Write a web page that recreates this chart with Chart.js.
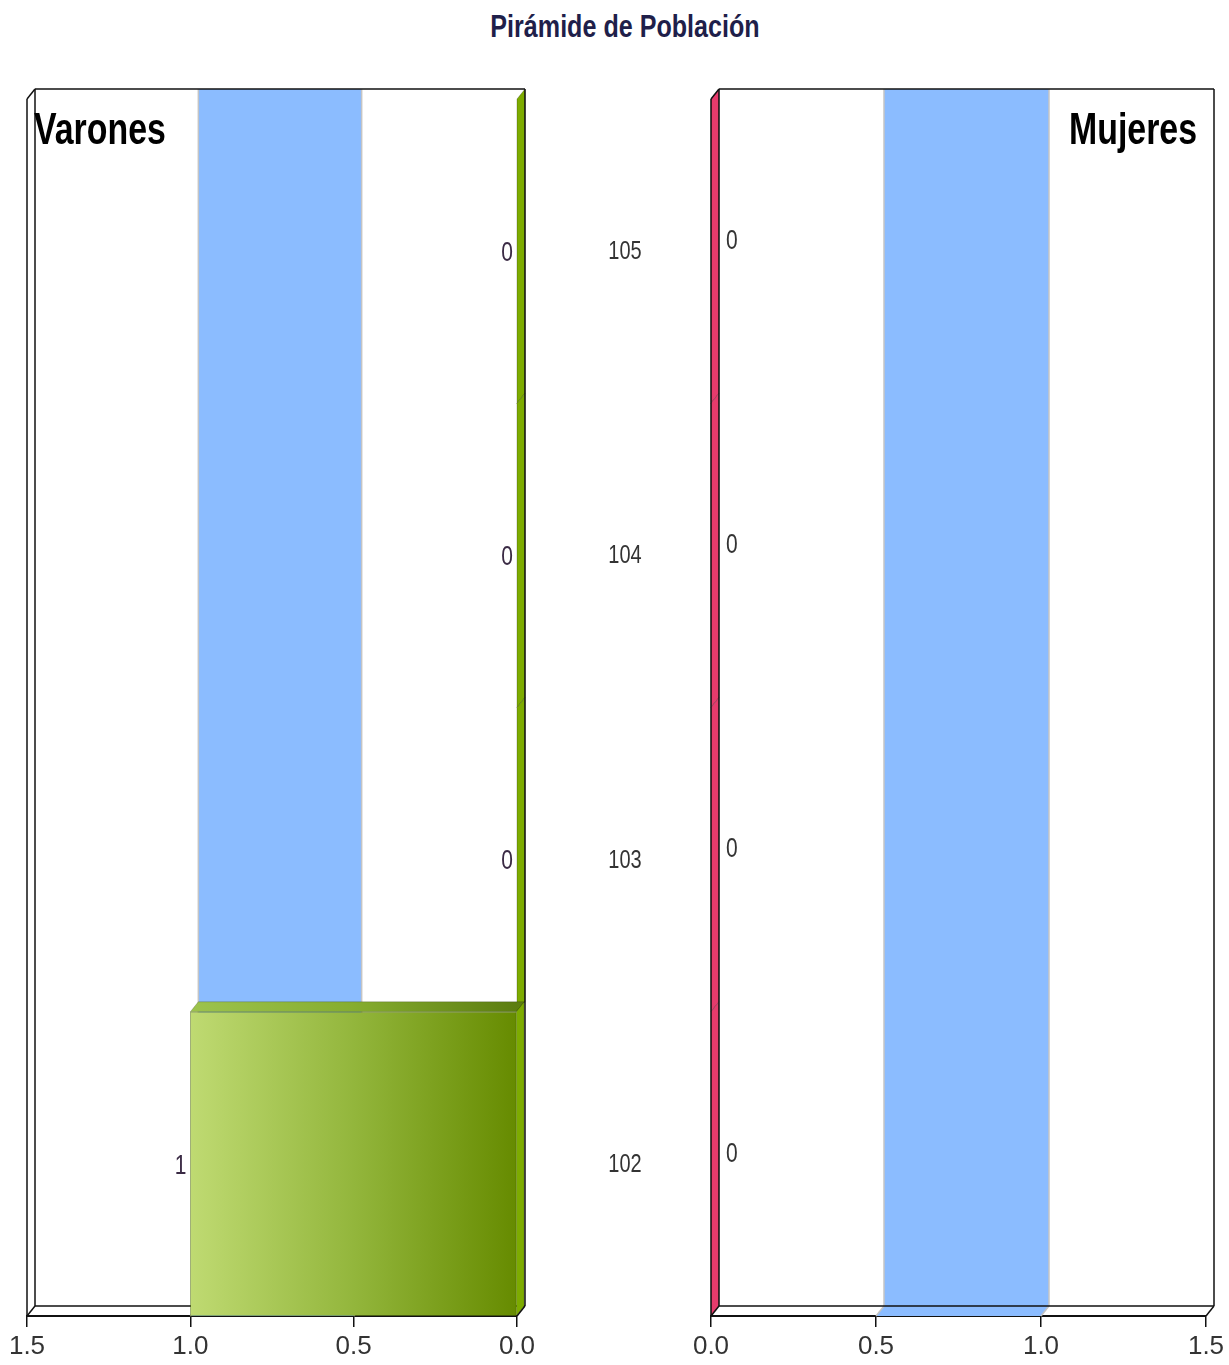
<!DOCTYPE html>
<html lang="es">
<head>
<meta charset="utf-8">
<title>Pirámide de Población</title>
<script src="https://cdn.jsdelivr.net/npm/chart.js@4.4.1/dist/chart.umd.min.js"></script>
<style>
  html, body { margin: 0; padding: 0; background: #fff; }
  #page { position: relative; width: 1229px; height: 1365px; overflow: hidden; }
  #title {
    position: absolute; left: 0; top: 8px; width: 1250px; text-align: center;
    font: bold 31px 'Liberation Sans Narrow', 'Liberation Sans', sans-serif;
    line-height: 38px; color: #1f1f4a;
    transform: scaleX(0.81); transform-origin: 625px 0;
  }
  .box { position: absolute; top: 0; height: 1365px; }
  #boxVarones { left: 0; width: 740px; }
  #boxMujeres { left: 680px; width: 549px; }
</style>
</head>
<body>
<div id="page">
  <div id="title">Pirámide de Población</div>
  <div class="box" id="boxVarones"><canvas id="varones"></canvas></div>
  <div class="box" id="boxMujeres"><canvas id="mujeres"></canvas></div>
</div>
<script>
// edades, de arriba abajo
const ages = ['105', '104', '103', '102'];
const varones = [0, 0, 0, 1];
const mujeres = [0, 0, 0, 0];
const xMin = 0;
const xMax = 1.5;
const xStep = 0.5;

const FONT = "'Liberation Sans Narrow', 'Liberation Sans', sans-serif";
// desplazamiento de profundidad del efecto 3D
const DX = 8, DY = -10;
// compresion horizontal del texto (la fuente original es estrecha)
const NARROW = 0.8;

function poly(ctx, pts, fill, stroke) {
    ctx.beginPath();
    ctx.moveTo(pts[0][0], pts[0][1]);
    for (let i = 1; i < pts.length; i++) ctx.lineTo(pts[i][0], pts[i][1]);
    ctx.closePath();
    if (fill) { ctx.fillStyle = fill; ctx.fill(); }
    if (stroke) { ctx.strokeStyle = stroke; ctx.lineWidth = 1; ctx.stroke(); }
}

function line(ctx, x0, y0, x1, y1) {
    ctx.beginPath();
    ctx.moveTo(x0, y0);
    ctx.lineTo(x1, y1);
    ctx.stroke();
}

function text(ctx, str, x, y, sx) {
    ctx.save();
    ctx.translate(x, y);
    ctx.scale(sx, 1);
    ctx.fillText(str, 0, 0);
    ctx.restore();
}

function hGradient(ctx, xa, xb, stops) {
    const g = ctx.createLinearGradient(xa, 0, xb, 0);
    stops.forEach((c, i) => g.addColorStop(i / (stops.length - 1), c));
    return g;
}

const pyramid3d = {
    id: 'pyramid3d',
    beforeDatasetsDraw(chart, args, o) {
        const {ctx, chartArea: a, scales: {x}} = chart;
        const px = x.ticks.map(t => x.getPixelForValue(t.value));
        const x0 = Math.min(px[1], px[2]), x1 = Math.max(px[1], px[2]);
        ctx.save();
        // franja azul entre 0.5 y 1.0 (pared del fondo y suelo)
        ctx.fillStyle = o.band;
        ctx.fillRect(x0 + DX, a.top + DY, x1 - x0, a.bottom - a.top);
        poly(ctx, [[x0 + DX, a.bottom + DY], [x1 + DX, a.bottom + DY], [x1, a.bottom], [x0, a.bottom]], o.band);
        ctx.strokeStyle = '#c4c4c4';
        ctx.lineWidth = 1.5;
        [x0, x1].forEach(v => {
            line(ctx, v + DX, a.top + DY, v + DX, a.bottom + DY);
            line(ctx, v + DX, a.bottom + DY, v, a.bottom);
        });
        // borde trasero del suelo
        ctx.strokeStyle = '#111';
        ctx.lineWidth = 1.5;
        line(ctx, a.left + DX, a.bottom + DY, a.right + DX, a.bottom + DY);
        ctx.restore();
    },
    afterDatasetsDraw(chart, args, o) {
        const {ctx, chartArea: a, scales: {y}} = chart;
        const meta = chart.getDatasetMeta(0);
        const values = chart.data.datasets[0].data;
        ctx.save();
        meta.data.forEach(bar => {
            const {x, y: cy, base, height} = bar.getProps(['x', 'y', 'base', 'height'], true);
            const top = cy - height / 2, bot = cy + height / 2;
            const lo = Math.min(x, base), hi = Math.max(x, base);
            if (hi - lo > 0.5) {
                poly(ctx, [[lo, top], [hi, top], [hi + DX, top + DY], [lo + DX, top + DY]],
                    hGradient(ctx, lo, hi, o.topFace), 'rgba(0,0,0,0.18)');
            }
            poly(ctx, [[hi, top], [hi + DX, top + DY], [hi + DX, bot + DY], [hi, bot]],
                o.sideFace, 'rgba(0,0,0,0.22)');
        });

        // marco: pared trasera y pared lateral izquierda
        ctx.strokeStyle = '#111';
        ctx.lineWidth = 1.5;
        line(ctx, a.left + DX, a.top + DY, a.right + DX, a.top + DY);
        line(ctx, a.right + DX, a.top + DY, a.right + DX, a.bottom + DY);
        line(ctx, a.right + DX, a.bottom + DY, a.right, a.bottom);
        line(ctx, a.left + DX, a.top + DY, a.left + DX, a.bottom + DY);
        line(ctx, a.left, a.top, a.left, a.bottom);
        line(ctx, a.left, a.top, a.left + DX, a.top + DY);
        line(ctx, a.left, a.bottom, a.left + DX, a.bottom + DY);

        // etiquetas de valor
        ctx.font = '28px ' + FONT;
        ctx.fillStyle = o.valueLabel.color;
        ctx.textBaseline = 'middle';
        ctx.textAlign = o.valueLabel.align;
        meta.data.forEach((bar, i) => {
            const {x, y: cy, base} = bar.getProps(['x', 'y', 'base'], true);
            const ax = o.valueLabel.align === 'right' ? Math.min(x, base) : Math.max(x, base);
            text(ctx, String(values[i]), ax + o.valueLabel.dx, cy + o.valueLabel.dy, 0.75);
        });

        // edades en el centro, entre las dos pirámides
        if (o.ageLabels) {
            ctx.font = '25px ' + FONT;
            ctx.fillStyle = '#333';
            ctx.textAlign = 'center';
            chart.data.labels.forEach((lab, i) => {
                text(ctx, lab, a.right + o.ageLabels.dx, y.getPixelForValue(i) + 1, NARROW);
            });
        }

        // rótulo del sexo
        ctx.font = 'bold 44px ' + FONT;
        ctx.fillStyle = '#000';
        ctx.textBaseline = 'alphabetic';
        ctx.textAlign = o.corner.align;
        const cx = o.corner.align === 'left' ? a.left + DX + o.corner.inset : a.right + DX - o.corner.inset;
        text(ctx, o.corner.text, cx, a.top + DY + 55, 0.77);
        ctx.restore();
    }
};

function xAxis(reverse) {
    return {
        type: 'linear',
        min: xMin,
        max: xMax,
        reverse: reverse,
        afterFit: s => { s.height = 49; },
        ticks: {
            stepSize: xStep,
            callback: v => Number(v).toFixed(1),
            font: {family: FONT, size: 26},
            color: '#333',
            padding: 4,
            maxRotation: 0
        },
        grid: {drawOnChartArea: false, drawTicks: true, tickLength: 11, color: '#111', lineWidth: 1.5},
        border: {display: true, color: '#111', width: 2}
    };
}

function frontFill(stops, light) {
    return ctx => {
        const chart = ctx.chart;
        if (!chart.chartArea) return light;
        const data = chart.data.datasets[0].data;
        const top = Math.max(...data);
        const xs = chart.scales.x;
        if (top <= 0) return light;
        return hGradient(chart.ctx, xs.getPixelForValue(top), xs.getPixelForValue(0), stops);
    };
}

const maleStops = ['#bfda72', '#93b63c', '#668b00'];
const femaleStops = ['#f59ab6', '#e4487a', '#c91650'];

const graficoVarones = new Chart(document.getElementById('varones'), {
    type: 'bar',
    data: {
        labels: ages,
        datasets: [{
            label: 'Varones',
            data: varones,
            backgroundColor: frontFill(maleStops, maleStops[0]),
            borderColor: 'rgba(80,110,10,0.55)',
            borderWidth: 1,
            barPercentage: 1,
            categoryPercentage: 1
        }]
    },
    options: {
        indexAxis: 'y',
        responsive: true,
        maintainAspectRatio: false,
        animation: false,
        layout: {padding: {left: 27, top: 99, right: 223, bottom: 0}},
        scales: {
            x: xAxis(true),
            y: {display: false}
        },
        plugins: {
            legend: {display: false},
            tooltip: {enabled: false},
            pyramid3d: {
                band: '#8bbcff',
                topFace: ['#9dc34d', '#86ad2f', '#5c7d10'],
                sideFace: '#7dab00',
                valueLabel: {align: 'right', dx: -4, dy: 2, color: '#3a2a44'},
                ageLabels: {dx: 108},
                corner: {text: 'Varones', align: 'left', inset: -1}
            }
        }
    },
    plugins: [pyramid3d]
});

const graficoMujeres = new Chart(document.getElementById('mujeres'), {
    type: 'bar',
    data: {
        labels: ages,
        datasets: [{
            label: 'Mujeres',
            data: mujeres,
            backgroundColor: frontFill(femaleStops, femaleStops[1]),
            borderColor: 'rgba(150,20,60,0.55)',
            borderWidth: 1,
            barPercentage: 1,
            categoryPercentage: 1
        }]
    },
    options: {
        indexAxis: 'y',
        responsive: true,
        maintainAspectRatio: false,
        animation: false,
        layout: {padding: {left: 31, top: 99, right: 23, bottom: 0}},
        scales: {
            x: xAxis(false),
            y: {display: false}
        },
        plugins: {
            legend: {display: false},
            tooltip: {enabled: false},
            pyramid3d: {
                band: '#8bbcff',
                topFace: ['#ef6d94', '#d92a5f'],
                sideFace: '#e63b6c',
                valueLabel: {align: 'left', dx: 15, dy: -10, color: '#333'},
                ageLabels: null,
                corner: {text: 'Mujeres', align: 'right', inset: 17}
            }
        }
    },
    plugins: [pyramid3d]
});
</script>
</body>
</html>
